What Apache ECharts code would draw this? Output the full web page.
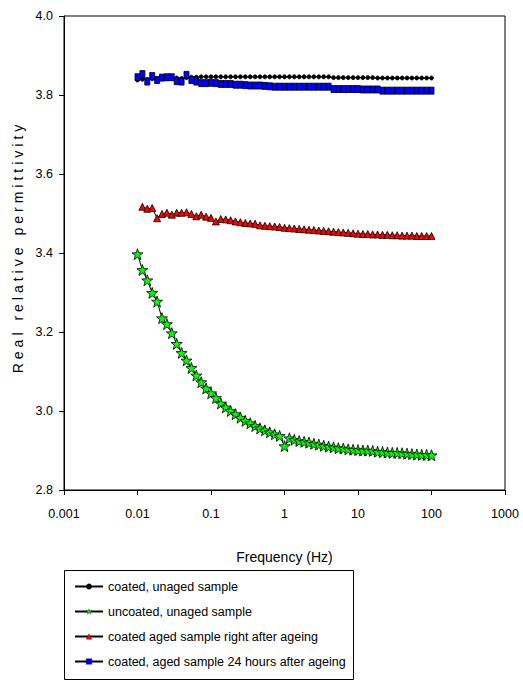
<!DOCTYPE html>
<html>
<head>
<meta charset="utf-8">
<script src="https://cdn.jsdelivr.net/npm/echarts@6/dist/echarts.min.js"></script>
<style>
html,body{margin:0;padding:0;background:#fff;}
#chart{width:523px;height:681px;}
</style>
</head>
<body>
<div id="chart"></div>
<script>
// ---- data ----
var frequencies = [0.01,0.01166,0.01359,0.01585,0.01848,0.02154,0.02512,0.02929,0.03415,0.03981,0.04642,0.05412,0.0631,0.07356,0.08577,
  0.1,0.1166,0.1359,0.1585,0.1848,0.2154,0.2512,0.2929,0.3415,0.3981,0.4642,0.5412,0.631,0.7356,0.8577,
  1,1.166,1.359,1.585,1.848,2.154,2.512,2.929,3.415,3.981,4.642,5.412,6.31,7.356,8.577,
  10,11.66,13.59,15.85,18.48,21.54,25.12,29.29,34.15,39.81,46.42,54.12,63.1,73.56,85.77,100];

var coatedUnaged = [3.838,3.840,3.839,3.841,3.840,3.842,3.841,3.842,3.843,3.842,3.844,3.845,3.845,3.846,3.846,
  3.846,3.846,3.846,3.846,3.846,3.846,3.846,3.846,3.846,3.846,3.846,3.846,3.846,3.846,3.846,
  3.846,3.846,3.846,3.846,3.846,3.846,3.846,3.846,3.846,3.846,3.844,3.844,3.844,3.844,3.844,
  3.844,3.844,3.844,3.844,3.843,3.843,3.843,3.843,3.843,3.843,3.843,3.843,3.843,3.843,3.843,3.843];

var uncoatedUnaged = [3.397,3.357,3.331,3.299,3.277,3.235,3.220,3.197,3.170,3.147,3.128,3.109,3.090,3.073,3.057,
  3.045,3.033,3.019,3.009,3.000,2.992,2.983,2.975,2.969,2.962,2.956,2.951,2.946,2.941,2.937,
  2.911,2.931,2.927,2.924,2.922,2.920,2.917,2.915,2.912,2.910,2.908,2.906,2.905,2.903,2.902,
  2.901,2.900,2.900,2.899,2.897,2.896,2.895,2.894,2.894,2.893,2.892,2.891,2.890,2.889,2.889,2.888];

var coatedAgedRight = [null,3.517,3.512,3.514,3.488,3.499,3.502,3.497,3.502,3.502,3.503,3.499,3.493,3.497,3.492,
  3.489,3.480,3.486,3.485,3.483,3.480,3.478,3.476,3.475,3.474,3.470,3.469,3.468,3.467,3.466,
  3.464,3.463,3.462,3.461,3.460,3.459,3.458,3.457,3.456,3.455,3.454,3.453,3.452,3.451,3.450,
  3.449,3.448,3.448,3.447,3.447,3.446,3.446,3.445,3.445,3.444,3.444,3.444,3.443,3.443,3.443,3.443];

var coatedAged24h = [3.845,3.853,3.834,3.848,3.838,3.844,3.845,3.845,3.835,3.834,3.851,3.838,3.834,3.830,3.830,
  3.831,3.830,3.828,3.828,3.828,3.826,3.826,3.825,3.824,3.824,3.824,3.823,3.822,3.821,3.821,
  3.821,3.821,3.821,3.821,3.821,3.821,3.821,3.821,3.821,3.821,3.815,3.815,3.815,3.815,3.815,
  3.815,3.814,3.814,3.814,3.814,3.811,3.811,3.811,3.811,3.811,3.811,3.811,3.811,3.811,3.811,3.811];

var seriesNames = ['coated, unaged sample','uncoated, unaged sample','coated aged sample right after ageing','coated, aged sample 24 hours after ageing'];
var xTickLabels = ['0.001','0.01','0.1','1','10','100','1000'];
var yTickLabels = ['2.8','3.0','3.2','3.4','3.6','3.8','4.0'];
var xTitle = 'Frequency (Hz)';
var yTitle = 'Real relative permittivity';

// ---- chart ----
var FONT = "'Liberation Sans', Arial, sans-serif";
function pairs(ys){ return frequencies.map(function(f,i){ return [f, ys[i]]; }).filter(function(p){ return p[1] !== null; }); }
var starPath = 'path://M0,-10 L2.35,-3.24 L9.51,-3.09 L3.8,1.24 L5.88,8.09 L0,4 L-5.88,8.09 L-3.8,1.24 L-9.51,-3.09 L-2.35,-3.24 Z';

var chart = echarts.init(document.getElementById('chart'), null, {renderer:'svg'});
function mk(name, data, symbol, size, fill){
  return {
    name:name, type:'line', data:pairs(data), symbol:symbol, symbolSize:size,
    showAllSymbol:true, animation:false,
    lineStyle:{color:'#000', width:1},
    itemStyle:{color:fill, borderColor:'#000', borderWidth:0.8}
  };
}
chart.setOption({
  animation:false,
  backgroundColor:'#fff',
  grid:{left:64, right:18, top:16, bottom:191, show:true, borderColor:'#000', borderWidth:1, backgroundColor:'transparent'},
  xAxis:{
    type:'log', logBase:10, min:0.001, max:1000,
    name:xTitle, nameLocation:'middle', nameGap:60,
    nameTextStyle:{fontFamily:FONT, fontSize:14, color:'#000'},
    axisLine:{show:true, lineStyle:{color:'#000', width:1}},
    axisTick:{show:true, length:5, lineStyle:{color:'#000'}},
    axisLabel:{fontFamily:FONT, fontSize:12.5, color:'#000', margin:17,
      formatter:function(v){ var i=Math.round(Math.log10(v))+3; return xTickLabels[i]!==undefined?xTickLabels[i]:''; }},
    splitLine:{show:false}, minorTick:{show:false}
  },
  yAxis:{
    type:'value', min:2.8, max:4.0, interval:0.2,
    axisLine:{show:true, lineStyle:{color:'#000', width:1}},
    axisTick:{show:true, length:5, lineStyle:{color:'#000'}},
    axisLabel:{fontFamily:FONT, fontSize:12.5, color:'#000', margin:11,
      formatter:function(v){ var i=Math.round((v-2.8)/0.2); return yTickLabels[i]!==undefined?yTickLabels[i]:''; }},
    splitLine:{show:false}
  },
  legend:{
    orient:'vertical', left:74, top:580, height:160, padding:0, itemWidth:28, itemHeight:7, itemGap:12,
    data:seriesNames,
    itemStyle:{borderWidth:0.3},
    textStyle:{fontFamily:FONT, fontSize:12.5, color:'#000', lineHeight:12},
    inactiveColor:'#000'
  },
  graphic:[
    {type:'rect', shape:{x:64.5, y:570.5, width:289, height:109}, style:{fill:'none', stroke:'#000', lineWidth:1}, silent:true},
    {type:'text', x:18, y:247, rotation:Math.PI/2, silent:true,
     style:{text:yTitle, fontFamily:FONT, fontSize:14, fill:'#000', textAlign:'center', textVerticalAlign:'middle'}}
  ],
  series:[
    mk(seriesNames[0], coatedUnaged, 'circle', 4, '#000'),
    mk(seriesNames[1], uncoatedUnaged, starPath, 11, '#00ff00'),
    mk(seriesNames[2], coatedAgedRight, 'triangle', 7, '#ff0000'),
    mk(seriesNames[3], coatedAged24h, 'rect', [5,7], '#0000ff')
  ]
});
function spaceTitle(){
  var ts = document.querySelectorAll('#chart text');
  ts.forEach(function(t){ if(t.textContent === yTitle){ t.style.letterSpacing = '4px'; } });
}
chart.on('finished', spaceTitle);
setTimeout(spaceTitle, 50);
</script>
</body>
</html>
